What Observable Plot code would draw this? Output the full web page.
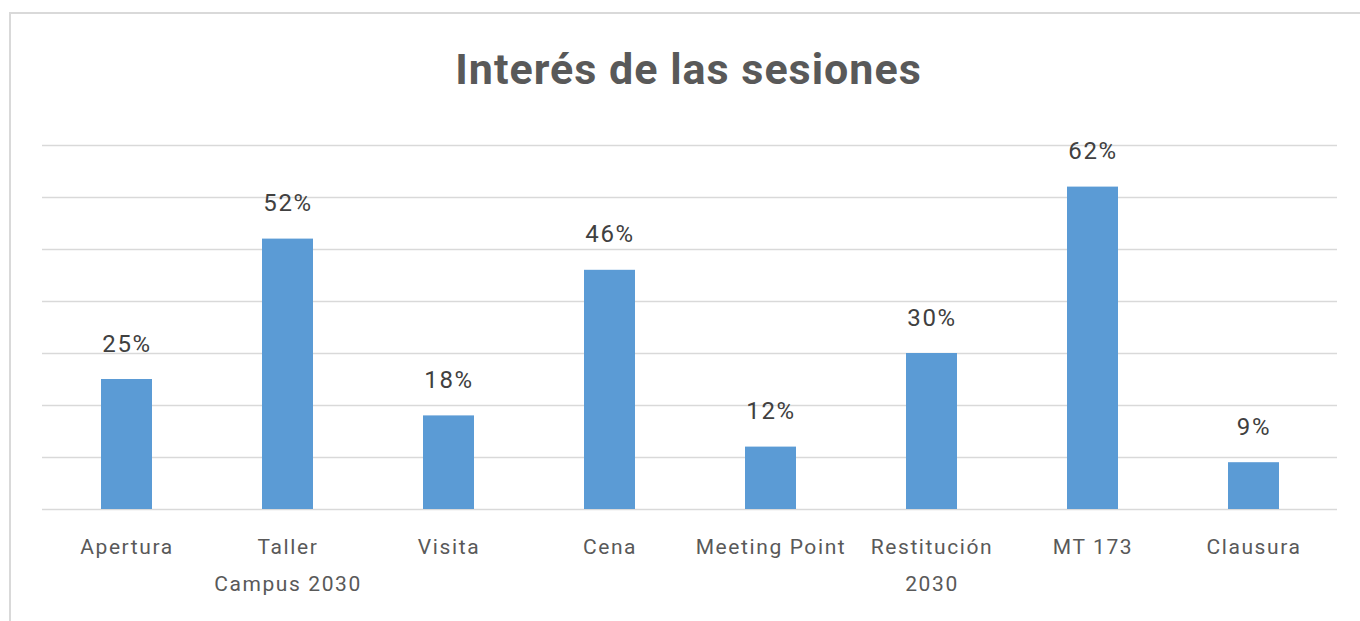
<!DOCTYPE html>
<html>
<head>
<meta charset="utf-8">
<script src="https://cdn.jsdelivr.net/npm/d3@7"></script>
<script src="https://cdn.jsdelivr.net/npm/@observablehq/plot@0.6"></script>
<style>
  html, body { margin: 0; padding: 0; background: #fff; width: 1360px; height: 621px; overflow: hidden; }
  #frame { position: absolute; left: 9px; top: 12px; width: 1400px; height: 700px;
           border-left: 2px solid #d9d9d9; border-top: 2px solid #d9d9d9; box-sizing: border-box; }
  #title { position: absolute; left: 0; top: 44px; width: 1377px; text-align: center;
           font-family: Roboto, "Noto Sans", sans-serif; font-weight: bold; font-size: 43px;
           letter-spacing: 1px; color: #595959; line-height: 50px; }
  #chart { position: absolute; left: 0; top: 100px; }
  #chart svg text { letter-spacing: 1.6px; }
</style>
</head>
<body>
<div id="frame"></div>
<div id="title">Interés de las sesiones</div>
<div id="chart"></div>
<script>
const categories = ["Apertura", "Taller\nCampus 2030", "Visita", "Cena", "Meeting Point", "Restitución\n2030", "MT 173", "Clausura"];
const values = [25, 52, 18, 46, 12, 30, 62, 9];
const yTicks = [0, 10, 20, 30, 40, 50, 60, 70];

const data = categories.map((c, i) => ({category: c, value: values[i]}));

const chart = Plot.plot({
  width: 1360,
  height: 521,
  marginTop: 45,
  marginBottom: 112,
  marginLeft: 42,
  marginRight: 23,
  style: {fontFamily: "Roboto, 'Noto Sans', sans-serif", background: "transparent"},
  x: {domain: categories, paddingInner: 0.685, paddingOuter: 0.3425, label: null},
  y: {domain: [0, 70], label: null, axis: null},
  marks: [
    Plot.gridY(yTicks, {stroke: "#d9d9d9", strokeOpacity: 1, strokeWidth: 1.5}),
    Plot.barY(data, {x: "category", y: "value", fill: "#5b9bd5"}),
    Plot.text(data, {x: "category", y: "value", text: d => d.value + "%", dy: -28, lineAnchor: "bottom", fontSize: 24, fill: "#404040"}),
    Plot.axisX({tickSize: 0, tickPadding: 17.5, fontSize: 21, lineHeight: 1.78, fill: "#595959", label: null})
  ]
});
document.getElementById("chart").appendChild(chart);
</script>
</body>
</html>
